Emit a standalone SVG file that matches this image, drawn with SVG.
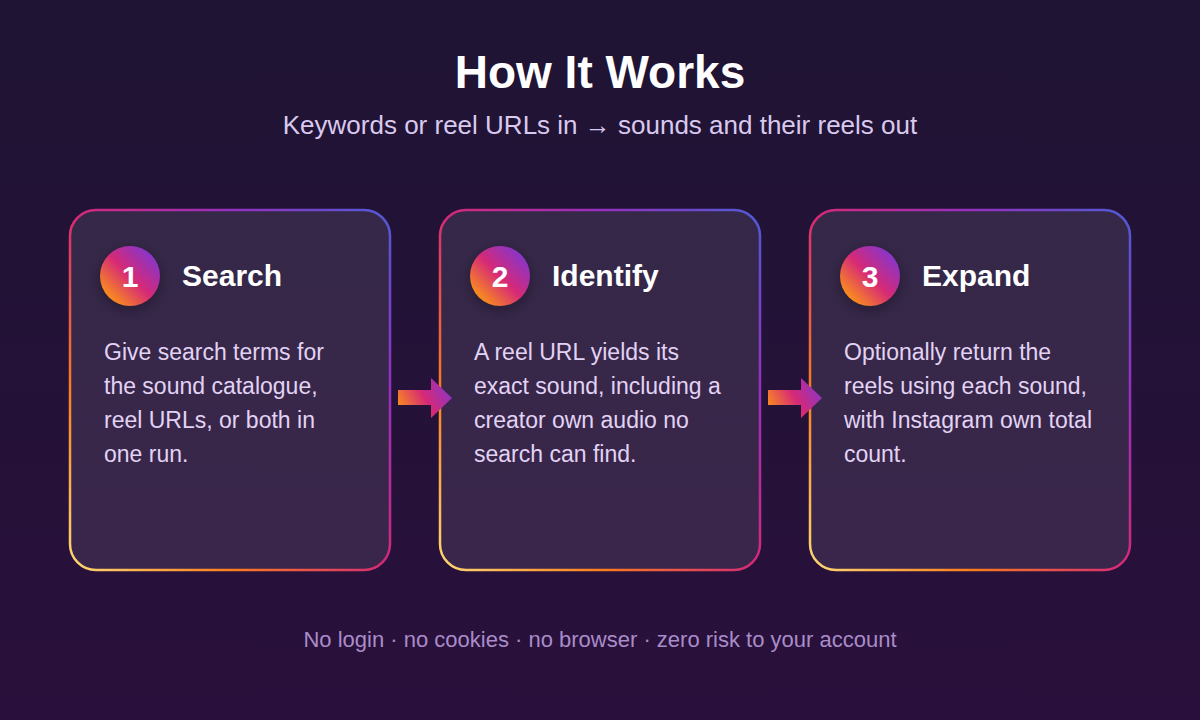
<svg xmlns="http://www.w3.org/2000/svg" width="1200" height="720" viewBox="0 0 1200 720">
<defs>
<linearGradient id="bg" x1="0" y1="0" x2="0" y2="1">
<stop offset="0" stop-color="#1f1433"/>
<stop offset="1" stop-color="#29103c"/>
</linearGradient>
<linearGradient id="border" x1="0" y1="1" x2="1" y2="0">
<stop offset="0" stop-color="#feda75"/>
<stop offset="0.25" stop-color="#fa7e1e"/>
<stop offset="0.5" stop-color="#d62976"/>
<stop offset="0.75" stop-color="#962fbf"/>
<stop offset="1" stop-color="#4f5bd5"/>
</linearGradient>
<linearGradient id="badge" x1="0.15" y1="0.85" x2="0.85" y2="0.15">
<stop offset="0" stop-color="#fa8c1e"/>
<stop offset="0.5" stop-color="#d62976"/>
<stop offset="1" stop-color="#8a35c8"/>
</linearGradient>
<linearGradient id="arrow" x1="0" y1="0.7" x2="1" y2="0.3">
<stop offset="0" stop-color="#fa8c1e"/>
<stop offset="0.5" stop-color="#d62976"/>
<stop offset="1" stop-color="#8a35c8"/>
</linearGradient>
<filter id="glow" x="-50%" y="-50%" width="200%" height="200%">
<feGaussianBlur stdDeviation="6"/>
</filter>
</defs>
<style>
.title{font-family:"Liberation Sans",Arial,sans-serif;font-weight:bold;font-size:46px;fill:#ffffff;text-anchor:middle}
.sub{font-family:"Liberation Sans",Arial,sans-serif;font-size:26px;fill:#d9c9ef;text-anchor:middle}
.foot{font-family:"Liberation Sans",Arial,sans-serif;font-size:22px;fill:#a98cc8;text-anchor:middle}
.card{fill:#ffffff;fill-opacity:0.09;stroke:url(#border);stroke-width:2.5}
.num{font-family:"Liberation Sans",Arial,sans-serif;font-weight:bold;font-size:30px;fill:#ffffff;text-anchor:middle}
.head{font-family:"Liberation Sans",Arial,sans-serif;font-weight:bold;font-size:30px;fill:#ffffff}
.body{font-family:"Liberation Sans",Arial,sans-serif;font-size:23px;fill:#e2d3f5}
.halo{fill:#000000;fill-opacity:0.25}
</style>
<rect width="1200" height="720" fill="url(#bg)"/>
<text class="title" x="600" y="88">How It Works</text>
<text class="sub" x="600" y="134">Keywords or reel URLs in → sounds and their reels out</text>

<g id="step1">
<rect class="card" x="70" y="210" width="320" height="360" rx="26"/>
<circle class="halo" cx="130" cy="280" r="32" filter="url(#glow)"/>
<circle cx="130" cy="276" r="30" fill="url(#badge)"/>
<text class="num" x="130" y="287">1</text>
<text class="head" x="182" y="286">Search</text>
<text class="body" x="104" y="360">Give search terms for</text>
<text class="body" x="104" y="394">the sound catalogue,</text>
<text class="body" x="104" y="428">reel URLs, or both in</text>
<text class="body" x="104" y="462">one run.</text>
</g>

<g id="step2">
<rect class="card" x="440" y="210" width="320" height="360" rx="26"/>
<circle class="halo" cx="500" cy="280" r="32" filter="url(#glow)"/>
<circle cx="500" cy="276" r="30" fill="url(#badge)"/>
<text class="num" x="500" y="287">2</text>
<text class="head" x="552" y="286">Identify</text>
<text class="body" x="474" y="360">A reel URL yields its</text>
<text class="body" x="474" y="394">exact sound, including a</text>
<text class="body" x="474" y="428">creator own audio no</text>
<text class="body" x="474" y="462">search can find.</text>
</g>

<g id="step3">
<rect class="card" x="810" y="210" width="320" height="360" rx="26"/>
<circle class="halo" cx="870" cy="280" r="32" filter="url(#glow)"/>
<circle cx="870" cy="276" r="30" fill="url(#badge)"/>
<text class="num" x="870" y="287">3</text>
<text class="head" x="922" y="286">Expand</text>
<text class="body" x="844" y="360">Optionally return the</text>
<text class="body" x="844" y="394">reels using each sound,</text>
<text class="body" x="844" y="428">with Instagram own total</text>
<text class="body" x="844" y="462">count.</text>
</g>

<g id="connectors">
<path d="M398 390 H431 V378 L452 398 L431 418 V405 H398 Z" fill="url(#arrow)"/>
<path d="M768 390 H801 V378 L822 398 L801 418 V405 H768 Z" fill="url(#arrow)"/>
</g>

<text class="foot" x="600" y="647">No login · no cookies · no browser · zero risk to your account</text>
</svg>
